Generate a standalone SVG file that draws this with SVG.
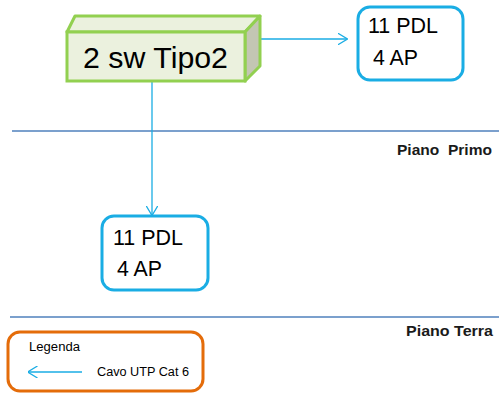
<svg xmlns="http://www.w3.org/2000/svg" width="499" height="394" viewBox="0 0 499 394">
<style>
.t{font-family:"Liberation Sans",Arial,sans-serif;fill:#000}
.box{fill:#fff;stroke:#1AADE4;stroke-width:3}
.con{stroke:#1AADE4;stroke-width:1.3;fill:none}
.floor{stroke:#4F81BD;stroke-width:1.3}
.lbl{font-family:"Liberation Sans",Arial,sans-serif;font-weight:bold;font-size:15px;fill:#1a1a1a}
</style>
<defs>
<marker id="arr" viewBox="0 0 10 12" refX="9.5" refY="6" markerWidth="10" markerHeight="12" markerUnits="userSpaceOnUse" orient="auto">
<path d="M0,0 L10,6 L0,12" fill="none" stroke="#1AADE4" stroke-width="1.3"/>
</marker>
</defs>
<rect width="499" height="394" fill="#fff"/>
<g id="floors">
<line class="floor" x1="12" y1="131" x2="499" y2="131"/>
<text class="lbl" x="397" y="155" textLength="95" lengthAdjust="spacingAndGlyphs">Piano&#160; Primo</text>
<line class="floor" x1="10" y1="317" x2="499" y2="317"/>
<text class="lbl" x="406" y="336" textLength="87" lengthAdjust="spacingAndGlyphs">Piano Terra</text>
</g>
<g id="connectors">
<line class="con" x1="260" y1="39" x2="347" y2="39" marker-end="url(#arr)"/>
<line class="con" x1="152" y1="81" x2="152" y2="215" marker-end="url(#arr)"/>
</g>
<g id="switch">
<polygon points="67,32 75,16 260,16 245,32" fill="#EBF1DE" stroke="#92D050" stroke-width="3" stroke-linejoin="round"/>
<polygon points="245,32 260,16 260,66 245,81" fill="#C3C6B3" stroke="#92D050" stroke-width="3" stroke-linejoin="round"/>
<rect x="67" y="32" width="178" height="49" fill="#EBF1DE" stroke="#92D050" stroke-width="3"/>
<text class="t" x="83" y="68" font-size="30" textLength="145" lengthAdjust="spacingAndGlyphs">2 sw Tipo2</text>
</g>
<g id="box-primo">
<rect class="box" x="358" y="7" width="105" height="73" rx="12"/>
<text class="t" x="368" y="33" font-size="21.5" textLength="70" lengthAdjust="spacingAndGlyphs">11 PDL</text>
<text class="t" x="373" y="65" font-size="21.5" textLength="45" lengthAdjust="spacingAndGlyphs">4 AP</text>
</g>
<g id="box-terra">
<rect class="box" x="102" y="216" width="106" height="74" rx="12"/>
<text class="t" x="113" y="245" font-size="21.5" textLength="70" lengthAdjust="spacingAndGlyphs">11 PDL</text>
<text class="t" x="117" y="276" font-size="21.5" textLength="45" lengthAdjust="spacingAndGlyphs">4 AP</text>
</g>
<g id="legend">
<rect x="8" y="332" width="195" height="59" rx="12" fill="#fff" stroke="#E46C0A" stroke-width="3"/>
<text class="t" x="29" y="351" font-size="12.5" textLength="51" lengthAdjust="spacingAndGlyphs">Legenda</text>
<line class="con" x1="82" y1="372" x2="28" y2="372" marker-end="url(#arr)"/>
<text class="t" x="97" y="376" font-size="12.5" textLength="92" lengthAdjust="spacingAndGlyphs">Cavo UTP Cat 6</text>
</g>
</svg>
